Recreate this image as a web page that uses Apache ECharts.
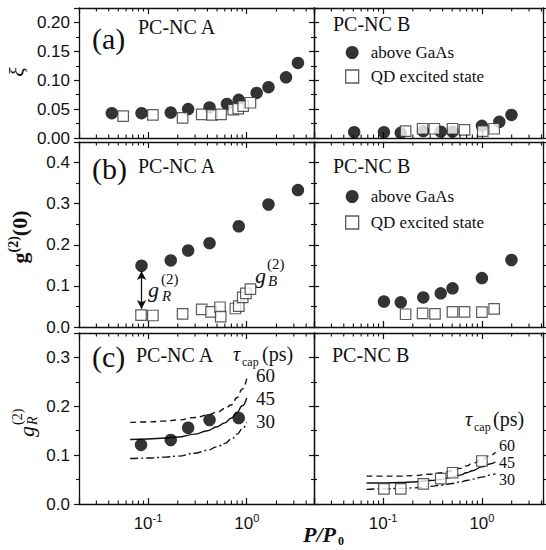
<!DOCTYPE html>
<html>
<head>
<meta charset="utf-8">
<script src="https://cdn.jsdelivr.net/npm/echarts@6/dist/echarts.min.js"></script>
<style>
  html, body { margin:0; padding:0; background:#fff; }
  #plot { width:546px; height:550px; }
</style>
</head>
<body>
<div id="plot"></div>
<script>
const SERIF = '"Liberation Serif", "Times New Roman", serif';
const SANS  = '"Liberation Sans", Arial, sans-serif';
const INK   = '#111';

// (a) xi vs P/P0
const aA_aboveP  = [0.043, 0.086, 0.17, 0.255, 0.42, 0.63, 0.83, 1.26, 1.66, 2.5, 3.3];
const aA_aboveXi = [0.043, 0.043, 0.044, 0.050, 0.053, 0.059, 0.066, 0.078, 0.088, 0.105, 0.130];
const aA_qdP     = [0.056, 0.112, 0.224, 0.35, 0.445, 0.549, 0.73, 0.82, 0.92, 1.09];
const aA_qdXi    = [0.038, 0.040, 0.035, 0.041, 0.040, 0.041, 0.049, 0.051, 0.055, 0.061];
const aB_aboveP  = [0.051, 0.102, 0.151, 0.255, 0.383, 0.504, 1.0, 1.5, 1.99];
const aB_aboveXi = [0.010, 0.010, 0.009, 0.012, 0.011, 0.011, 0.021, 0.028, 0.040];
const aB_qdP     = [0.169, 0.251, 0.33, 0.504, 0.667, 1.02, 1.33];
const aB_qdXi    = [0.012, 0.016, 0.016, 0.016, 0.014, 0.012, 0.016];

// (b) g2(0) vs P/P0
const bA_aboveP = [0.086, 0.17, 0.255, 0.42, 0.83, 1.66, 3.3];
const bA_aboveG = [0.149, 0.162, 0.186, 0.204, 0.245, 0.298, 0.333];
const bA_qdP    = [0.085, 0.112, 0.224, 0.35, 0.435, 0.536, 0.545, 0.767, 0.83, 0.91, 0.98, 1.09];
const bA_qdG    = [0.029, 0.028, 0.032, 0.043, 0.037, 0.048, 0.025, 0.045, 0.051, 0.072, 0.082, 0.092];
const bB_aboveP = [0.102, 0.151, 0.255, 0.383, 0.504, 1.0, 1.99];
const bB_aboveG = [0.062, 0.060, 0.072, 0.082, 0.094, 0.119, 0.163];
const bB_qdP    = [0.169, 0.251, 0.335, 0.504, 0.667, 1.0, 1.33];
const bB_qdG    = [0.031, 0.033, 0.032, 0.037, 0.037, 0.036, 0.044];
const arrowGR   = [0.086, 0.136, 0.044];   // P, upper g2, lower g2

// (c) gR2 vs P/P0, data and model curves (tau_cap = 60, 45, 30 ps)
const cA_P  = [0.085, 0.17, 0.255, 0.42, 0.83];
const cA_gR = [0.121, 0.131, 0.156, 0.172, 0.176];
const cB_P  = [0.102, 0.151, 0.255, 0.383, 0.504, 1.0];
const cB_gR = [0.031, 0.031, 0.041, 0.052, 0.064, 0.088];

const curveA_P  = [0.066, 0.1, 0.15, 0.2, 0.3, 0.4, 0.5, 0.6, 0.7, 0.8, 0.9, 1.0];
const curveA_60 = [0.167, 0.168, 0.170, 0.172, 0.177, 0.182, 0.188, 0.195, 0.203, 0.218, 0.235, 0.257];
const curveA_45 = [0.132, 0.133, 0.135, 0.137, 0.143, 0.150, 0.158, 0.166, 0.176, 0.188, 0.201, 0.217];
const curveA_30 = [0.093, 0.094, 0.096, 0.098, 0.104, 0.110, 0.117, 0.124, 0.133, 0.143, 0.154, 0.167];
const curveB_P  = [0.068, 0.1, 0.15, 0.2, 0.3, 0.4, 0.5, 0.6, 0.7, 0.8, 1.0, 1.2, 1.37];
const curveB_60 = [0.057, 0.057, 0.057, 0.058, 0.061, 0.064, 0.068, 0.073, 0.078, 0.083, 0.091, 0.099, 0.106];
const curveB_45 = [0.043, 0.043, 0.044, 0.045, 0.048, 0.051, 0.055, 0.059, 0.064, 0.068, 0.076, 0.082, 0.086];
const curveB_30 = [0.030, 0.031, 0.032, 0.033, 0.036, 0.039, 0.042, 0.045, 0.048, 0.051, 0.055, 0.059, 0.062];

// log-axis minor tick values
const minorX = [0.03, 0.04, 0.05, 0.06, 0.07, 0.08, 0.09, 0.2, 0.3, 0.4, 0.5, 0.6, 0.7, 0.8, 0.9, 2, 3, 4];

const panels = [
  { left:79,  top:8,   width:235, height:130, xMax:4.8, yMax:0.225, yInt:0.05, dec:2, yLab:true,  xLab:false },
  { left:314, top:8,   width:229, height:130, xMax:4.15, yMax:0.225, yInt:0.05, dec:2, yLab:false, xLab:false },
  { left:79,  top:142, width:235, height:185, xMax:4.8, yMax:0.45,  yInt:0.1,  dec:1, yLab:true,  xLab:false },
  { left:314, top:142, width:229, height:185, xMax:4.15, yMax:0.45,  yInt:0.1,  dec:1, yLab:false, xLab:false },
  { left:79,  top:333, width:235, height:171, xMax:4.8, yMax:0.35,  yInt:0.1,  dec:1, yLab:true,  xLab:true  },
  { left:314, top:333, width:229, height:171, xMax:4.15, yMax:0.35,  yInt:0.1,  dec:1, yLab:false, xLab:true  }
];

const lineSt = { color:INK, width:1.3 };
function logLabel(v) {
  const l = Math.log10(v), e = Math.round(l);
  return Math.abs(l - e) < 1e-6 ? '{b|10}{s|' + e + '}' : '';
}

const grids = [], xAxes = [], yAxes = [];
panels.forEach((p, i) => {
  grids.push({ left:p.left, top:p.top, width:p.width, height:p.height, containLabel:false });
  ['bottom', 'top'].forEach(pos => xAxes.push({
    type:'log', logBase:10, gridIndex:i, position:pos, min:0.02, max:p.xMax,
    axisLine:{ show:true, onZero:false, lineStyle:lineSt },
    splitLine:{ show:false },
    axisTick:{ show:true, inside:true, length:6, lineStyle:{ color:INK, width:1.2 } },
    axisLabel:{
      show: pos === 'bottom' && p.xLab, margin:8, formatter:logLabel,
      rich:{
        b:{ fontFamily:SANS, fontSize:17, color:INK },
        s:{ fontFamily:SANS, fontSize:11, color:INK, padding:[0, 0, 12, 0] }
      }
    }
  }));
  ['left', 'right'].forEach(pos => yAxes.push({
    type:'value', gridIndex:i, position:pos, min:0, max:p.yMax, interval:p.yInt,
    axisLine:{ show:true, onZero:false, lineStyle:lineSt },
    splitLine:{ show:false },
    axisTick:{ show:true, inside:false, length:5, lineStyle:{ color:INK, width:1.2 } },
    minorTick:{ show:true, splitNumber:2, length:3, lineStyle:{ color:INK, width:1.1 } },
    axisLabel:{
      show: pos === 'left' && p.yLab, showMaxLabel:false, margin:9,
      fontFamily:SANS, fontSize:17, color:INK,
      formatter: v => v.toFixed(p.dec)
    }
  }));
});

const pts = (xs, ys) => xs.map((x, k) => [x, ys[k]]);
const circ = (i, xs, ys) => ({
  type:'scatter', name:'above GaAs', xAxisIndex:2*i, yAxisIndex:2*i, data:pts(xs, ys),
  symbol:'circle', symbolSize:12.5, itemStyle:{ color:'#000' }, z:3
});
const sq = (i, xs, ys) => ({
  type:'scatter', name:'QD excited state', xAxisIndex:2*i, yAxisIndex:2*i, data:pts(xs, ys),
  symbol:'rect', symbolSize:10.5, itemStyle:{ color:'#fff', borderColor:'#333', borderWidth:1.2 }, z:4
});
const curve = (i, xs, ys, type) => ({
  type:'line', xAxisIndex:2*i, yAxisIndex:2*i, data:pts(xs, ys),
  showSymbol:false, smooth:true, smoothMonotone:'x', silent:true,
  lineStyle:{ color:INK, width:1.4, type }, z:2
});
const minorTicks = i => ({
  type:'custom', xAxisIndex:2*i, yAxisIndex:2*i, silent:true, clip:false, z:5,
  data: minorX.map(v => [v, 0]),
  renderItem: (params, api) => {
    const cs = params.coordSys;
    const x = api.coord([api.value(0), 0])[0];
    const st = { stroke:INK, lineWidth:1.1 };
    return { type:'group', children:[
      { type:'line', shape:{ x1:x, y1:cs.y + cs.height, x2:x, y2:cs.y + cs.height - 3.5 }, style:st },
      { type:'line', shape:{ x1:x, y1:cs.y, x2:x, y2:cs.y + 3.5 }, style:st }
    ]};
  }
});

const DASH = [6, 4], DASHDOT = [8, 3, 2, 3];
const series = [
  circ(0, aA_aboveP, aA_aboveXi), sq(0, aA_qdP, aA_qdXi),
  circ(1, aB_aboveP, aB_aboveXi), sq(1, aB_qdP, aB_qdXi),
  Object.assign(circ(2, bA_aboveP, bA_aboveG), {
    markLine:{
      silent:true, symbol:['arrow', 'arrow'], symbolSize:[7, 9], label:{ show:false },
      lineStyle:{ color:INK, width:1.3, type:'solid' },
      data:[[ { coord:[arrowGR[0], arrowGR[1]] }, { coord:[arrowGR[0], arrowGR[2]] } ]]
    }
  }),
  sq(2, bA_qdP, bA_qdG),
  circ(3, bB_aboveP, bB_aboveG), sq(3, bB_qdP, bB_qdG),
  curve(4, curveA_P, curveA_60, DASH), curve(4, curveA_P, curveA_45, 'solid'), curve(4, curveA_P, curveA_30, DASHDOT),
  circ(4, cA_P, cA_gR),
  curve(5, curveB_P, curveB_60, DASH), curve(5, curveB_P, curveB_45, 'solid'), curve(5, curveB_P, curveB_30, DASHDOT),
  sq(5, cB_P, cB_gR)
];
panels.forEach((p, i) => series.push(minorTicks(i)));

// text helpers
const T = (x, y, text, font, align, lh) => ({
  type:'text', x, y, silent:true,
  style:{ text, font, fill:INK, align: align || 'left', verticalAlign:'middle', lineHeight: lh }
});
const f = (size, extra) => (extra ? extra + ' ' : '') + size + 'px ' + SERIF;

const legendBase = {
  orient:'vertical', left:345, padding:0, itemWidth:27, itemHeight:13, selectedMode:false,
  textStyle:{ fontFamily:SERIF, fontSize:17, color:INK, lineHeight:13 },
  data:[
    { name:'above GaAs', icon:'circle' },
    { name:'QD excited state', icon:'path://M0,0H10V10H0Z',
      itemStyle:{ color:'#fff', borderColor:'#333', borderWidth:1.3 } }
  ]
};

const chart = echarts.init(document.getElementById('plot'), null, { renderer:'svg' });
chart.setOption({
  animation:false,
  backgroundColor:'#fff',
  grid:grids, xAxis:xAxes, yAxis:yAxes, series,
  legend:[
    Object.assign({}, legendBase, { top:44, itemGap:7 }),
    Object.assign({}, legendBase, { top:188, itemGap:9 })
  ],
  graphic:[
    T(92, 38, '(a)', f(30)), T(138, 27, 'PC-NC A', f(20)), T(333, 24, 'PC-NC B', f(20)),
    T(92, 168, '(b)', f(30)), T(138, 166, 'PC-NC A', f(20)), T(333, 166, 'PC-NC B', f(20)),
    T(92, 356, '(c)', f(30)), T(136, 355, 'PC-NC A', f(20)), T(332, 355, 'PC-NC B', f(20)),
    // y titles
    { type:'group', x:16, y:72, rotation:Math.PI/2, children:[ T(0, 0, 'ξ', f(22, 'italic'), 'center') ] },
    { type:'group', x:19, y:237, rotation:Math.PI/2, children:[{
      type:'text', x:0, y:0, silent:true,
      style:{ text:'{g|g}{s|(2)}{g|(0)}', align:'center', verticalAlign:'middle', fill:INK,
        rich:{ g:{ fontFamily:SERIF, fontSize:22, fontWeight:'bold', fill:INK },
               s:{ fontFamily:SERIF, fontSize:14, fontWeight:'bold', fill:INK, padding:[0, 0, 12, 0] } } }
    }]},
    { type:'group', x:26, y:437, rotation:Math.PI/2, children:[
      T(0, 0, 'g', f(22, 'italic')), T(12, -9, '(2)', f(14)), T(12, 6, 'R', f(14, 'italic'))
    ]},
    // annotations in (b)
    T(148, 289, 'g', f(22, 'italic')), T(161, 279, '(2)', f(15)), T(162, 296, 'R', f(15, 'italic')),
    T(255, 275, 'g', f(22, 'italic')), T(267, 264, '(2)', f(15)), T(268, 281, 'B', f(15, 'italic')),
    // tau labels in (c)
    T(233, 354, 'τ', f(20, 'italic')), T(242, 362, 'cap', f(12)), T(262, 354, '(ps)', f(20)),
    T(256, 375, '60', f(19)), T(256, 398, '45', f(19)), T(256, 421, '30', f(19)),
    T(465, 419, 'τ', f(20, 'italic')), T(474, 427, 'cap', f(12)), T(493, 419, '(ps)', f(20)),
    T(499, 445, '60', f(16), 'left', 16), T(499, 462, '45', f(16), 'left', 16), T(499, 479, '30', f(16), 'left', 16),
    // x title
    T(303, 534, 'P/P', f(22, 'bold italic')), T(338, 541, '0', f(12, 'bold'))
  ]
});
window.addEventListener('resize', () => chart.resize());
</script>
</body>
</html>
